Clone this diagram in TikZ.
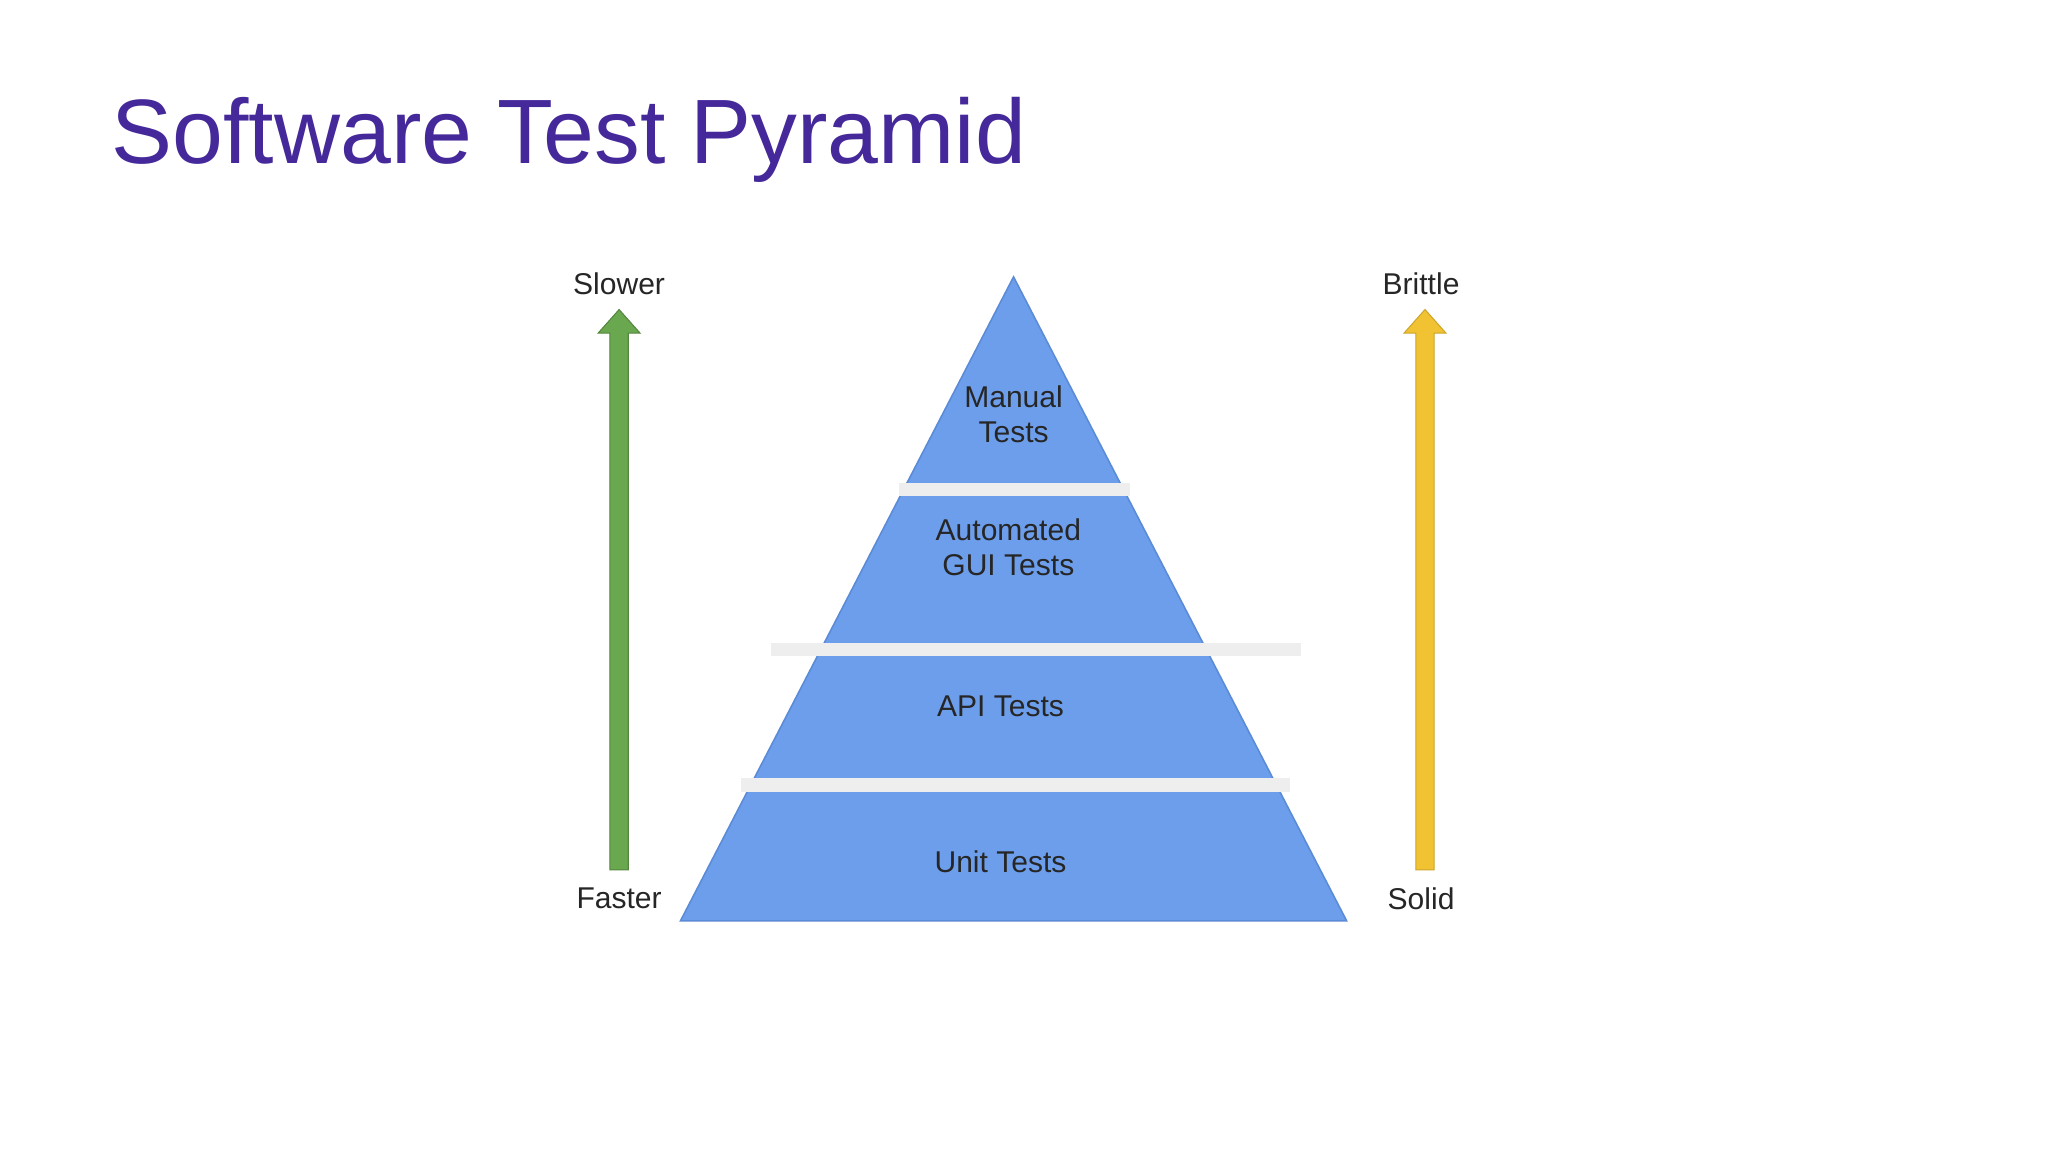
\documentclass[tikz,border=0pt]{standalone}
\usepackage{fontspec}
\setmainfont{Liberation Sans}
\definecolor{pyr}{HTML}{6D9EEB}
\definecolor{pyredge}{HTML}{5B8BD6}
\definecolor{stripe}{HTML}{EEEEEE}
\definecolor{grn}{HTML}{6AA84F}
\definecolor{yel}{HTML}{F1C232}
\definecolor{ttl}{HTML}{45289A}
\tikzset{lbl/.style={font=\fontsize{11.5}{13}\selectfont, text=black!85},
 inlbl/.style={font=\fontsize{11.5}{13.5}\selectfont, text=black!85, align=center},
 band/.style={stripe, line width=5pt}}
\begin{document}
\begin{tikzpicture}[x=0.5pt,y=-0.5pt]
\useasboundingbox[fill=white] (0,0) rectangle (1568,882);
\node[anchor=base west, inner sep=0, text=ttl, font=\fontsize{35}{40}\selectfont] (title) at (85,125) {Software Test Pyramid};
% pyramid
\fill[pyr, draw=pyredge, line width=0.6pt] (776,212) -- (1031,705) -- (521,705) -- cycle;
\draw[band] (688,375) -- (865,375);
\draw[band] (590,497) -- (996,497);
\draw[band] (567,601) -- (988,601);
% arrows
\fill[grn, draw=grn!80!black, line width=0.4pt] (467,666) -- (481,666) -- (481,255) -- (490,255) -- (474,237) -- (458,255) -- (467,255) -- cycle;
\fill[yel, draw=yel!85!black, line width=0.4pt] (1084,666) -- (1098,666) -- (1098,255) -- (1107,255) -- (1091,237) -- (1075,255) -- (1084,255) -- cycle;
% labels
\node[lbl] (slower) at (474,217) {Slower};
\node[lbl] (faster) at (474,688) {Faster};
\node[lbl] (brittle) at (1088,217) {Brittle};
\node[lbl] (solid) at (1088,688) {Solid};
\node[inlbl] (manual) at (776,317) {Manual\\Tests};
\node[inlbl] (gui) at (772,419) {Automated\\GUI Tests};
\node[inlbl] (api) at (766,541) {API Tests};
\node[inlbl] (unit) at (766,660) {Unit Tests};
\end{tikzpicture}
\end{document}
